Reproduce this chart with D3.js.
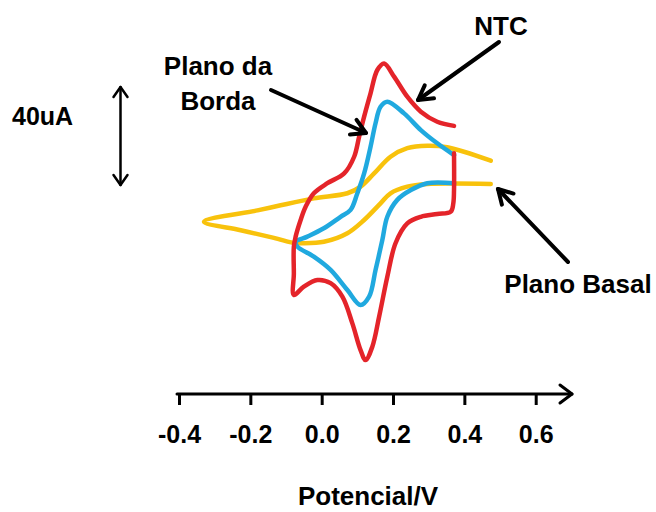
<!DOCTYPE html>
<html>
<head>
<meta charset="utf-8">
<script src="https://cdn.jsdelivr.net/npm/d3@7"></script>
<style>
  html, body { margin: 0; padding: 0; background: #fff; }
  svg { display: block; }
  text { font-family: "Liberation Sans", Arial, sans-serif; font-weight: bold; fill: #000; }
</style>
</head>
<body>
<script>
// potential (V) vs current (uA)
const ntcCurve = [
  [0.371, 47.8], [0.324, 49.5], [0.278, 53.6], [0.240, 59.7], [0.203, 67.9],
  [0.175, 73.3], [0.156, 70.6], [0.137, 61.1], [0.119, 51.6], [0.105, 43.4],
  [0.091, 35.2], [0.063, 28.4], [0.016, 24.4], [-0.022, 20.3], [-0.045, 14.8],
  [-0.059, 9.4], [-0.073, 2.6], [-0.078, -1.5], [-0.078, -12.4], [-0.078, -21.2],
  [-0.050, -17.8], [-0.012, -15.1], [0.025, -16.4], [0.058, -21.9], [0.086, -32.8],
  [0.109, -43.7], [0.123, -47.8], [0.142, -42.3], [0.161, -30.1], [0.184, -13.8],
  [0.207, -0.1], [0.240, 8.0], [0.278, 10.7], [0.324, 11.8], [0.362, 12.8],
  [0.369, 16.2], [0.371, 21.6], [0.371, 36.6]
];

const bordaCurve = [
  [0.371, 35.9], [0.324, 40.7], [0.278, 46.1], [0.231, 52.9], [0.184, 57.7],
  [0.165, 55.6], [0.151, 48.9], [0.137, 39.3], [0.119, 28.4], [0.100, 20.3],
  [0.081, 13.5], [0.053, 10.7], [0.006, 6.0], [-0.040, 2.6], [-0.073, 0.5],
  [-0.068, -1.5], [-0.022, -5.6], [0.025, -11.0], [0.072, -19.2], [0.109, -25.3],
  [0.133, -21.9], [0.151, -11.0], [0.170, 1.2], [0.184, 10.7], [0.212, 17.6],
  [0.250, 21.6], [0.296, 24.4], [0.371, 24.4]
];

const basalCurve = [
  [0.474, 33.6], [0.352, 39.1], [0.296, 39.7], [0.240, 38.7], [0.193, 35.2],
  [0.147, 28.4], [0.109, 23.0], [0.072, 20.3], [-0.022, 18.2], [-0.115, 15.4],
  [-0.180, 13.3], [-0.330, 8.7],
  [-0.227, 5.2], [-0.134, 2.1], [-0.073, -0.1], [-0.059, -0.1], [0.006, 0.5],
  [0.072, 4.0], [0.119, 9.4], [0.165, 16.2], [0.193, 20.3], [0.240, 23.0],
  [0.296, 24.1], [0.370, 24.3], [0.474, 24.1]
];

const tickValues = [-0.4, -0.2, 0.0, 0.2, 0.4, 0.6];
const tickLabels = ["-0.4", "-0.2", "0.0", "0.2", "0.4", "0.6"];

const width = 656, height = 512;

const svg = d3.select("body").append("svg")
  .attr("width", width)
  .attr("height", height);

const x = d3.scaleLinear().domain([-0.4, 0.6]).range([179, 535.7]);
const y = d3.scaleLinear().domain([0, 40]).range([243, 145]);

// open V arrow helper
function arrow(g, x1, y1, x2, y2, sw, head, spread, heads) {
  g.append("line")
    .attr("x1", x1).attr("y1", y1).attr("x2", x2).attr("y2", y2)
    .attr("stroke", "#000").attr("stroke-width", sw).attr("stroke-linecap", "round");
  const tips = heads === 2 ? [[x2, y2, x1, y1], [x1, y1, x2, y2]] : [[x1, y1, x2, y2]];
  tips.forEach(([ax, ay, bx, by]) => {
    const a = Math.atan2(by - ay, bx - ax);
    const p1 = [bx - head * Math.cos(a) + spread * Math.sin(a), by - head * Math.sin(a) - spread * Math.cos(a)];
    const p2 = [bx - head * Math.cos(a) - spread * Math.sin(a), by - head * Math.sin(a) + spread * Math.cos(a)];
    g.append("path")
      .attr("d", `M${p1[0]},${p1[1]}L${bx},${by}L${p2[0]},${p2[1]}`)
      .attr("fill", "none").attr("stroke", "#000").attr("stroke-width", sw)
      .attr("stroke-linecap", "round").attr("stroke-linejoin", "round");
  });
}

// x axis
const axisY = 394;
const axis = d3.axisBottom(x)
  .tickValues(tickValues)
  .tickFormat((d, i) => tickLabels[i])
  .tickSize(11)
  .tickSizeOuter(0)
  .tickPadding(20);

const gAxis = svg.append("g")
  .attr("transform", `translate(0,${axisY})`)
  .call(axis);
gAxis.select(".domain").remove();
gAxis.selectAll(".tick line").attr("stroke", "#000").attr("stroke-width", 3);
gAxis.selectAll(".tick text")
  .attr("font-size", 25)
  .attr("font-family", "Liberation Sans, Arial, sans-serif")
  .attr("font-weight", "bold")
  .attr("fill", "#000");

arrow(svg, 177, axisY, 572, axisY, 3, 12, 9, 1);

svg.append("text")
  .attr("x", 368).attr("y", 505)
  .attr("text-anchor", "middle")
  .attr("font-size", 26)
  .text("Potencial/V");

// scale bar
arrow(svg, 120.5, 87, 120.5, 185, 2.5, 10, 7, 2);
svg.append("text")
  .attr("x", 12).attr("y", 125)
  .attr("font-size", 25)
  .text("40uA");

// curves
const line = d3.line()
  .x(d => x(d[0]))
  .y(d => y(d[1]))
  .curve(d3.curveCatmullRom.alpha(0.5));

const series = [
  { data: basalCurve, color: "#f8c20c" },
  { data: bordaCurve, color: "#20a9df" },
  { data: ntcCurve, color: "#e4242a" }
];

svg.append("g").selectAll("path")
  .data(series)
  .join("path")
  .attr("d", d => line(d.data))
  .attr("fill", "none")
  .attr("stroke", d => d.color)
  .attr("stroke-width", 4.5)
  .attr("stroke-linejoin", "round")
  .attr("stroke-linecap", "round");

// annotations
svg.append("text").attr("x", 218).attr("y", 75).attr("text-anchor", "middle")
  .attr("font-size", 26).text("Plano da");
svg.append("text").attr("x", 218).attr("y", 110).attr("text-anchor", "middle")
  .attr("font-size", 26).text("Borda");
arrow(svg, 271, 90, 366, 133, 4, 14, 8, 1);

svg.append("text").attr("x", 501).attr("y", 35).attr("text-anchor", "middle")
  .attr("font-size", 26).text("NTC");
arrow(svg, 499, 42, 418, 100, 4, 14, 8, 1);

svg.append("text").attr("x", 578).attr("y", 293).attr("text-anchor", "middle")
  .attr("font-size", 26).text("Plano Basal");
arrow(svg, 568, 262, 498, 189, 4, 14, 8, 1);
</script>
</body>
</html>
